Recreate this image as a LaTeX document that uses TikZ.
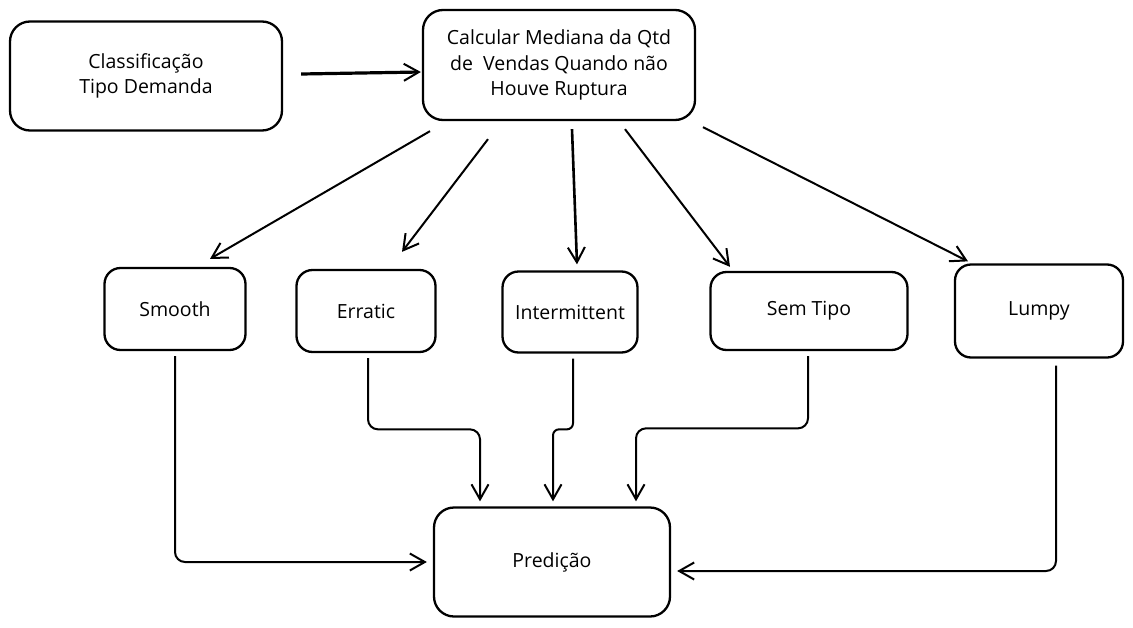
\documentclass[tikz,border=0pt]{standalone}
\usepackage{fontspec}
\setmainfont{Open Sans}
\usetikzlibrary{arrows.meta}

\begin{document}
\begin{tikzpicture}[x=1pt,y=-1pt,
            box/.style={draw, line width=2.3pt, rounded corners=16pt, align=center, inner sep=0pt,
              font=\fontsize{19.5}{25.5}\selectfont},
            flow/.style={line width=2pt, rounded corners=10pt, -{Straight Barb[length=15pt,width=17pt,line width=2pt]}}]
            \useasboundingbox (0,0) rectangle (1133,627);
            \node[box, minimum width=272, minimum height=109, rounded corners=20pt] (classif) at (146,76) {Classificação\\Tipo Demanda};
            \node[box, minimum width=272, minimum height=110, rounded corners=20pt] (mediana) at (559,65) {Calcular Mediana da Qtd\\de \ Vendas Quando não\\Houve Ruptura};
            \node[box, minimum width=141, minimum height=82] (smooth) at (175,309) {Smooth};
            \node[box, minimum width=139, minimum height=82] (erratic) at (366,311) {Erratic};
            \node[box, minimum width=135, minimum height=81] (intermit) at (570,312) {Intermittent};
            \node[box, minimum width=197, minimum height=78] (semtipo) at (809,311) {Sem Tipo};
            \node[box, minimum width=168, minimum height=93] (lumpy) at (1039,311) {Lumpy};
            \node[box, minimum width=236, minimum height=109, rounded corners=20pt] (predicao) at (552,562) {Predição};
            \draw[flow, line width=3.2pt] ([shift={(18,-2)}]classif.east) -- ([shift={(-1,7)}]mediana.west);
            \draw[flow] ([shift={(-129,10)}]mediana.south) -- ([shift={(35,-8)}]smooth.north);
            \draw[flow] ([shift={(-71,18)}]mediana.south) -- ([shift={(36,-17)}]erratic.north);
            \draw[flow, line width=2.6pt] ([shift={(13,8)}]mediana.south) -- ([shift={(7,-6)}]intermit.north);
            \draw[flow] ([shift={(66,8)}]mediana.south) -- ([shift={(-79,-4)}]semtipo.north);
            \draw[flow] ([shift={(144,6)}]mediana.south) -- ([shift={(-71,-2)}]lumpy.north);
            \draw[flow] ([shift={(0,5)}]smooth.south) |- ([shift={(-6,0)}]predicao.west);
            \draw[flow] ([shift={(2,5)}]erratic.south) |- ([shift={(-72,-77)}]predicao.north) -- ([shift={(-72,-5)}]predicao.north);
            \draw[flow, rounded corners=6pt] ([shift={(3,5)}]intermit.south) |- ([shift={(1,-77)}]predicao.north) -- ([shift={(1,-5)}]predicao.north);
            \draw[flow] ([shift={(-1,5)}]semtipo.south) |- ([shift={(84,-78)}]predicao.north) -- ([shift={(84,-5)}]predicao.north);
            \draw[flow] ([shift={(17,7)}]lumpy.south) |- ([shift={(6,9)}]predicao.east);
        \end{tikzpicture}
\end{document}
